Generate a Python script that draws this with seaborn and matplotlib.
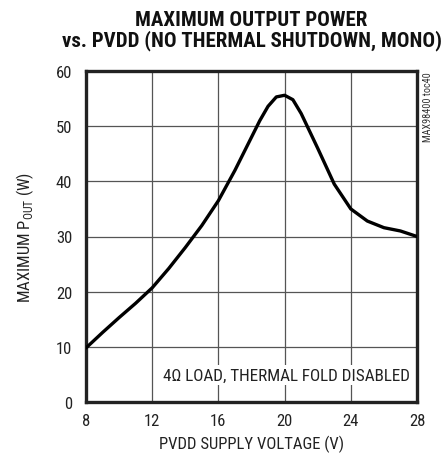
import matplotlib
matplotlib.use("Agg")
import matplotlib.pyplot as plt
import seaborn as sns
import pandas as pd

# ---- data ----
pvdd = [8, 9, 10, 11, 12, 13, 14, 15, 16, 17, 18, 18.5, 19, 19.5, 20, 20.5, 21, 22, 23, 24, 25, 26, 27, 28]
pout = [9.8, 12.6, 15.3, 17.9, 20.7, 24.2, 28.0, 32.0, 36.5, 42.0, 48.0, 51.0, 53.6, 55.3, 55.6, 54.8, 52.3, 46.0, 39.5, 35.0, 32.8, 31.6, 31.0, 30.0]
x_ticks = [8, 12, 16, 20, 24, 28]
y_ticks = [0, 10, 20, 30, 40, 50, 60]

title = "MAXIMUM OUTPUT POWER\nvs. PVDD (NO THERMAL SHUTDOWN, MONO)"
xlabel = "PVDD SUPPLY VOLTAGE (V)"
ylabel = r"MAXIMUM P$_{\mathregular{OUT}}$ (W)"
note = "4Ω LOAD, THERMAL FOLD DISABLED"
side = "MAX98400 toc40"

df = pd.DataFrame({"pvdd": pvdd, "pout": pout})

sns.set_theme(style="white")
fam = "Roboto Condensed"
plt.rcParams["font.family"] = [fam, "DejaVu Sans"]
plt.rcParams["mathtext.fontset"] = "custom"
plt.rcParams["mathtext.rm"] = fam

W, H = 441, 464
fig = plt.figure(figsize=(W / 100, H / 100), dpi=100)
ax = fig.add_axes([86 / W, 1 - 403 / H, (417 - 86) / W, (403 - 72) / H])

sns.lineplot(data=df, x="pvdd", y="pout", ax=ax, color="black", linewidth=2.4, zorder=3)

ax.set_xlim(8, 28)
ax.set_ylim(0, 60)
ax.set_xticks(x_ticks)
ax.set_yticks(y_ticks)
ax.set_xticklabels([str(v) for v in x_ticks])
ax.set_yticklabels([str(v) for v in y_ticks])
ax.tick_params(axis="both", length=0, labelsize=12, colors="#222222")
ax.tick_params(axis="x", pad=8)
ax.tick_params(axis="y", pad=10)
ax.grid(True, color="#555555", linewidth=0.9)
for s in ax.spines.values():
    s.set_visible(True)
    s.set_color("#222222")
    s.set_linewidth(2.4)

ax.set_xlabel(xlabel, fontsize=12, color="#222222", labelpad=5)
ax.set_ylabel(ylabel, fontsize=12, color="#222222", labelpad=14)

ax.text(27.6, 4.9, note, ha="right", va="center", fontsize=12.3, color="#222222",
        family=[fam, "DejaVu Sans"],
        bbox=dict(facecolor="white", edgecolor="none", pad=1.5), zorder=4)

fig.text(0.5 * (86 + 417) / W, 1 - 11 / H, title, ha="center", va="top",
         fontsize=15, fontweight="bold", color="#111111", linespacing=1.0)

fig.text(428 / W, 1 - 72 / H, side, rotation=90, ha="center", va="top",
         fontsize=7.3, color="#333333")

fig.savefig("out.png", dpi=100, facecolor="white")
